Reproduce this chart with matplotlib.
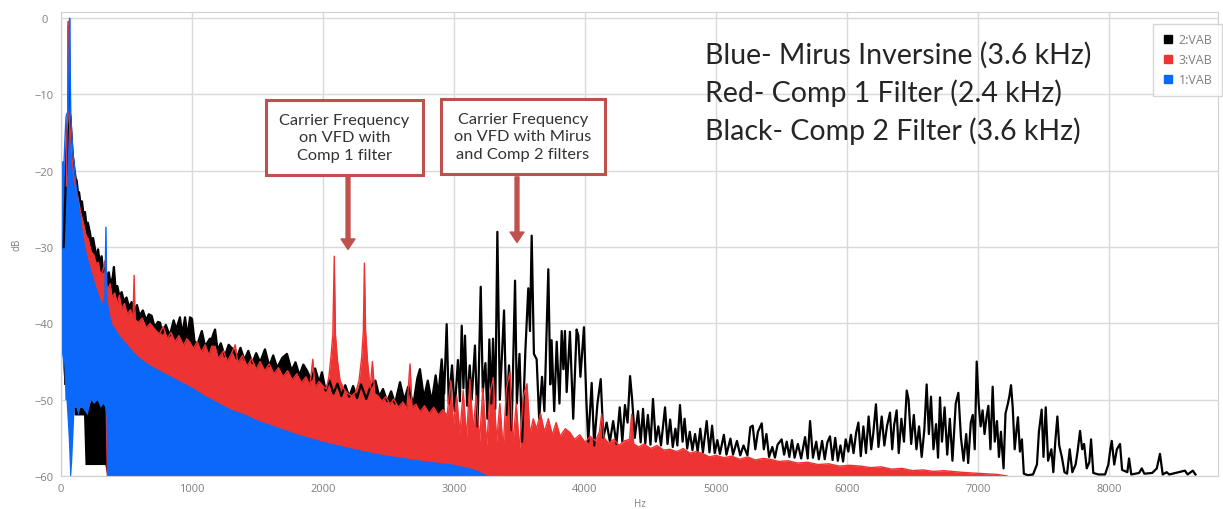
import matplotlib
matplotlib.use("Agg")
import matplotlib.pyplot as plt
from matplotlib.lines import Line2D
import numpy as np

# spectrum readings (Hz, dB) taken off the original screen capture
black_hz = [20, 35, 48, 55, 60, 64, 72, 80, 90, 100, 112, 120, 130, 138, 150, 160, 172, 183, 195, 205,
            221, 232, 245, 260, 270, 283, 295, 310, 322, 335, 350, 365, 380, 395, 404, 415, 430, 445, 463, 480,
            500, 520, 539, 560, 580, 600, 625, 650, 670, 692, 715, 740, 756, 775, 800, 830, 860, 880, 908, 925,
            947, 965, 985, 1000, 1020, 1046, 1075, 1100, 1137, 1150, 1165, 1176, 1195, 1220, 1250, 1280, 1313, 1340, 1370, 1400,
            1430, 1460, 1490, 1520, 1557, 1590, 1620, 1650, 1690, 1725, 1760, 1790, 1820, 1850, 1878, 1910, 1940, 1970, 1992, 2020,
            2050, 2080, 2110, 2140, 2170, 2200, 2230, 2260, 2290, 2330, 2360, 2400, 2430, 2458, 2490, 2520, 2550, 2588, 2620, 2650,
            2690, 2720, 2740, 2770, 2800, 2830, 2860, 2880, 2906, 2925, 2944, 2960, 2985, 3005, 3030, 3045, 3059, 3072, 3084, 3100,
            3120, 3135, 3160, 3180, 3204, 3220, 3240, 3255, 3270, 3285, 3298, 3315, 3331, 3350, 3365, 3382, 3400, 3420, 3440, 3466,
            3480, 3500, 3520, 3545, 3567, 3580, 3593, 3610, 3631, 3650, 3672, 3690, 3720, 3735, 3745, 3765, 3784, 3805, 3822, 3835,
            3847, 3860, 3885, 3910, 3936, 3949, 3965, 3992, 4010, 4025, 4051, 4070, 4095, 4120, 4140, 4165, 4190, 4215, 4240, 4265,
            4285, 4305, 4325, 4344, 4360, 4380, 4405, 4425, 4443, 4460, 4480, 4500, 4519, 4540, 4560, 4580, 4611, 4630, 4650, 4670,
            4690, 4705, 4725, 4745, 4760, 4780, 4800, 4820, 4840, 4860, 4880, 4900, 4929, 4950, 4970, 4990, 5010, 5030, 5060, 5080,
            5110, 5130, 5160, 5185, 5210, 5240, 5262, 5280, 5300, 5320, 5349, 5365, 5385, 5405, 5430, 5450, 5470, 5501, 5520, 5540,
            5560, 5580, 5600, 5625, 5650, 5680, 5700, 5718, 5740, 5765, 5785, 5810, 5830, 5850, 5870, 5890, 5910, 5930, 5950, 5970,
            5990, 6010, 6030, 6050, 6070, 6087, 6105, 6125, 6145, 6165, 6185, 6200, 6221, 6240, 6265, 6285, 6305, 6328, 6345, 6360,
            6379, 6395, 6415, 6435, 6456, 6470, 6490, 6510, 6530, 6550, 6570, 6590, 6608, 6625, 6641, 6660, 6680, 6695, 6710, 6725,
            6745, 6765, 6785, 6805, 6830, 6850, 6870, 6890, 6910, 6925, 6945, 6960, 6975, 6990, 7005, 7020, 7035, 7050, 7065, 7079,
            7095, 7112, 7128, 7145, 7160, 7175, 7195, 7210, 7227, 7240, 7252, 7265, 7280, 7295, 7305, 7320, 7335, 7350, 7380, 7420,
            7450, 7465, 7486, 7500, 7517, 7535, 7560, 7575, 7590, 7606, 7620, 7640, 7660, 7680, 7700, 7720, 7745, 7760, 7779, 7795,
            7810, 7830, 7850, 7863, 7880, 7920, 7970, 7995, 8010, 8021, 8040, 8060, 8084, 8100, 8140, 8153, 8170, 8230, 8250, 8270,
            8330, 8365, 8389, 8410, 8440, 8460, 8580, 8600, 8640, 8660]
black_db = [-30, -22, -16, -13, -1, -12, -13, -15.5, -18, -19.5, -21, -21.3, -23, -22.8, -24.5, -24, -25.8, -25.4, -27.2, -26.8,
            -28.1, -29.3, -28.8, -30.3, -31.6, -30.3, -32, -31.2, -33.2, -32.4, -34, -33.3, -35, -33.9, -32.6, -35.2, -35.1, -36.4, -35.9, -37.1,
            -36.6, -37.9, -37.2, -38.4, -37.6, -39, -38.3, -39.6, -38.8, -39, -40.5, -39.8, -39.9, -41.3, -40.2, -41.6, -39.6, -40.8, -39.2, -41.5,
            -39.2, -41.8, -39.2, -39.4, -42.5, -42.5, -41, -43, -42, -42.1, -41.3, -40.8, -43.5, -42.6, -44.3, -42.8, -43.4, -44.6, -43.2, -44.8,
            -43.6, -45.2, -43.9, -45.1, -43.4, -45.6, -44.2, -45.8, -44.5, -44, -46.2, -45.1, -46.8, -45.4, -46.2, -47.4, -45.9, -47.7, -46.4, -48.8,
            -47.5, -49.2, -47.9, -49.5, -48.1, -49.6, -48.2, -49.8, -48, -49.9, -48.4, -47.5, -49.6, -48.6, -50.2, -48.9, -50.5, -47.7, -50.1, -48.3,
            -50.6, -47.2, -46, -49.8, -47.5, -50.3, -46.8, -49.5, -44.7, -49.2, -40.1, -50.5, -45.5, -51.5, -44.8, -50.2, -40.3, -48.5, -41.6, -50.8,
            -45.5, -50, -42.9, -53.5, -35.2, -49, -45.2, -52.5, -42.1, -50.5, -42, -51.2, -28, -50, -44.5, -38.3, -52, -45.5, -54, -34.4,
            -50.5, -44, -55.5, -43.5, -35.4, -41, -28.5, -44, -44.7, -52.5, -47, -51.5, -32.9, -48, -42.2, -51.5, -42.4, -50.5, -41, -46,
            -41, -49, -41.1, -52.5, -40.8, -41.6, -47, -40.5, -50, -55.5, -47.8, -56, -50.5, -47.3, -55, -53, -55.5, -52.8, -55.8, -51,
            -55.5, -50.7, -53, -46.9, -50, -55, -51.5, -55.6, -51.2, -55.8, -52, -55.9, -49.9, -55.5, -53.5, -56, -51, -55.8, -52.6, -56.2,
            -53.8, -56, -50.7, -55.5, -52.5, -56.4, -54.2, -56.6, -54.5, -56.8, -53.8, -56.9, -52.8, -56.9, -53.4, -57, -55.3, -57.1, -54.6, -57.2,
            -55.1, -57.2, -55.4, -57.3, -56, -57.3, -53.6, -53.4, -56.5, -54.2, -53.1, -56.5, -54.5, -57.5, -56.2, -57.6, -55.9, -55.2, -57.2, -55.5,
            -57.5, -55.3, -57.6, -55.8, -57.7, -54.9, -57.7, -52.8, -57.6, -55.5, -57.8, -55.4, -57.8, -55.6, -54.8, -57.9, -55, -58, -56, -58.1,
            -55.2, -56.8, -54.6, -57, -54.3, -53, -57.4, -53.5, -57, -52.2, -56.5, -54.5, -50.6, -56.2, -52.2, -56, -53.5, -51.7, -56.5, -53.3,
            -51.4, -57, -52.5, -55.5, -48.8, -50, -55.8, -52, -56.5, -53.5, -57.5, -54, -48, -54.5, -49.6, -56.5, -53.2, -57.6, -49.7, -55.5,
            -51, -57.2, -52.5, -58, -50.5, -49.1, -55, -58, -54.5, -58.3, -53, -52, -56.5, -45, -50.5, -53.5, -51.4, -54.5, -52.3, -50.8,
            -56.5, -48.3, -55.5, -52.8, -57.5, -54.2, -59, -51.8, -50.6, -49.5, -48.1, -51, -56.5, -53.8, -52.3, -56.8, -55.2, -59.7, -59.9, -59.8,
            -58.5, -54.2, -51.3, -57.5, -51, -58, -56.5, -59.5, -55.5, -52.2, -56, -57.5, -59.5, -59.7, -56.5, -59.5, -58.5, -56.8, -54.1, -56.5,
            -55.8, -59, -58.2, -55.2, -59.6, -59.8, -59.8, -58.5, -56.5, -55.4, -58.5, -56.5, -55.8, -59.2, -59.5, -57.7, -59.8, -59.6, -59, -59.7,
            -59.6, -59, -57.1, -59.8, -59.5, -59.8, -59.3, -59.8, -59.3, -59.8]
# lowest level the dense black trace reaches (only differs from -60 below 345 Hz)
black_low = [-48] * 9 + [-52] * 8 + [-58.5] * 13 + [-60] * (len(black_hz) - 30)

red_hz = [40, 46, 50, 53, 56, 59, 64, 72, 85, 100, 115, 132, 150, 170, 190, 209, 230, 250, 270, 285,
          300, 318, 335, 345, 359, 375, 390, 410, 430, 445, 463, 485, 505, 530, 550, 558, 566, 590, 620, 650,
          680, 718, 750, 780, 810, 840, 870, 900, 935, 960, 985, 1010, 1040, 1070, 1100, 1130, 1150, 1176, 1200, 1240,
          1270, 1300, 1330, 1350, 1385, 1420, 1455, 1490, 1520, 1555, 1590, 1625, 1660, 1695, 1730, 1765, 1800, 1835, 1870, 1900,
          1922, 1940, 1970, 2000, 2025, 2045, 2060, 2075, 2086, 2095, 2110, 2130, 2160, 2190, 2220, 2250, 2275, 2295, 2308, 2316,
          2325, 2340, 2360, 2377, 2395, 2420, 2450, 2480, 2510, 2540, 2575, 2610, 2640, 2664, 2680, 2710, 2740, 2775, 2810, 2845,
          2880, 2915, 2947, 2975, 2995, 3020, 3045, 3070, 3095, 3122, 3145, 3170, 3195, 3220, 3250, 3275, 3300, 3325, 3350, 3375,
          3400, 3427, 3450, 3475, 3500, 3530, 3557, 3580, 3605, 3630, 3660, 3690, 3720, 3750, 3780, 3810, 3850, 3885, 3920, 3960,
          4000, 4040, 4080, 4110, 4127, 4145, 4180, 4220, 4260, 4300, 4340, 4356, 4372, 4410, 4450, 4500, 4550, 4600, 4649, 4700,
          4750, 4800, 4850, 4903, 4950, 5000, 5060, 5120, 5180, 5240, 5300, 5360, 5412, 5480, 5550, 5620, 5700, 5780, 5860, 5940,
          6020, 6099, 6180, 6260, 6340, 6420, 6500, 6580, 6660, 6740, 6863, 6950, 7050, 7150, 7221]
red_db = [-22, -15, -13.5, -10, -0.4, -11, -13.5, -15, -18.5, -21, -22.5, -23.7, -25.5, -26.8, -28.4, -29, -30.6, -31, -32.2, -32,
          -33.5, -33.2, -31.8, -34.8, -35.5, -34.8, -36.6, -36, -37.5, -36.3, -38.1, -37.4, -38.8, -38.2, -39.3, -33.7, -39.5, -39.9, -39.3, -40.6,
          -40, -40.8, -41.4, -40.4, -42, -41.2, -42.4, -41.6, -42.9, -42, -42.5, -43.3, -42.4, -43.8, -42.8, -44.2, -43, -43, -44.6, -43.6,
          -45, -44, -42.8, -45.2, -44.2, -45.6, -44.6, -46, -45, -46.2, -45.3, -46.6, -45.8, -47, -46.2, -47.4, -46.6, -47.8, -47, -48.2,
          -44.7, -48.4, -47.6, -48.2, -48.6, -47, -44.5, -41.5, -31.2, -41.5, -44.8, -47.5, -48.6, -49.2, -49.5, -49, -47.5, -44.5, -41, -32.1,
          -41, -45, -48.5, -45, -49.2, -49.5, -50.2, -49.6, -50.6, -49.9, -51, -50.3, -51.2, -45.3, -51, -50.6, -51.6, -50.8, -51.8, -51,
          -52, -51.3, -52.1, -47.5, -53.5, -49.5, -54.5, -48.8, -55, -47.3, -54, -49.5, -55.5, -48.5, -56, -49.2, -47.1, -55.5, -50.5, -56.5,
          -48.5, -46.4, -55.8, -50.5, -56.5, -49.5, -47.9, -54.5, -52.5, -53.8, -51.8, -54.2, -52.5, -54.6, -53, -54.8, -53.8, -54.3, -55.2, -54.6,
          -55.6, -54.8, -55.4, -54.2, -51.9, -55, -55.7, -55.2, -56, -55.4, -55.2, -51.9, -55.8, -56.2, -55.8, -56.4, -56, -56.6, -56.5, -56.8,
          -56.4, -57, -56.8, -57.1, -57.5, -57.3, -57.6, -57.4, -57.8, -57.5, -57.9, -57.7, -57.8, -58.1, -58, -58.3, -58.2, -58.5, -58.4, -58.7,
          -58.6, -58.7, -58.9, -58.8, -59.1, -59, -59.3, -59.2, -59.4, -59.3, -59.5, -59.6, -59.7, -59.8, -60]
red_low = [-50] * 9 + [-51] * 7 + [-50] * 7 + [-60] * (len(red_hz) - 23)

blue_hz = [0, 8, 15, 22, 30, 38, 45, 55, 62, 66, 70, 74, 82, 90, 100, 115, 130, 145, 160, 180,
           200, 225, 250, 275, 300, 320, 335, 343, 350, 370, 390, 412, 450, 500, 550, 603, 700, 800, 900, 1000,
           1100, 1200, 1300, 1400, 1500, 1600, 1700, 1800, 1900, 2000, 2150, 2300, 2450, 2600, 2800, 3000, 3150, 3250]
blue_db = [-19, -19.5, -18.8, -19.3, -16, -13, -12.5, -12.3, -5, 0, -6, -12.5, -15, -17.5, -19, -22, -24, -26, -28, -30,
           -31.5, -33, -34.5, -35.8, -37, -37.6, -36.5, -27.4, -37, -39, -40.3, -40.8, -41.8, -42.8, -43.8, -44.7, -45.8, -46.7, -47.6, -48.5,
           -49.6, -50.5, -51.4, -52, -52.8, -53.4, -54, -54.6, -55.1, -55.6, -56.2, -56.8, -57.3, -57.7, -58.2, -58.6, -59.2, -60]
blue_low = [-45, -44, -47, -45, -50, -50, -52, -55, -58, -60, -60, -60, -58, -55, -51, -51, -52, -51, -51, -51.5,
            -52, -50, -50.5, -50, -51, -50.5, -51, -52, -60, -60, -60, -60, -60, -60, -60, -60, -60, -60, -60, -60,
            -60, -60, -60, -60, -60, -60, -60, -60, -60, -60, -60, -60, -60, -60, -60, -60, -60, -60]

series_labels = ["2:VAB", "3:VAB", "1:VAB"]
notes = ["Blue- Mirus Inversine (3.6 kHz)", "Red- Comp 1 Filter (2.4 kHz)", "Black- Comp 2 Filter (3.6 kHz)"]

BLACK = "#000000"
RED = "#EE3333"
BLUE = "#0A68FA"
BOXRED = "#C0504D"
GRAY = "#7f7f7f"

plt.rcParams['font.family'] = ['Open Sans', 'DejaVu Sans']

W, H = 1223, 510
fig = plt.figure(figsize=(W / 100, H / 100), dpi=100)
ax = fig.add_axes([61 / W, 33 / H, (1218 - 61) / W, (477 - 12.7) / H])

bh = np.array(black_hz)
ax.fill_between(bh, black_low, black_db, where=bh <= 2935, color=BLACK, lw=0)
ax.plot(bh, black_db, color=BLACK, lw=1.6)
ax.fill_between(red_hz, red_low, red_db, color=RED, lw=0)
ax.plot(red_hz, red_db, color=RED, lw=1.0)
ax.fill_between(blue_hz, blue_low, blue_db, color=BLUE, lw=0)
ax.plot(blue_hz, blue_db, color=BLUE, lw=1.0)

ax.set_xlim(0, (1218 - 61) / 0.131)
ax.set_ylim(-60, 0.85)
ax.set_xticks(range(0, 9000, 1000))
ax.set_yticks(range(-60, 1, 10))
ax.grid(True, color="#d9d9d9", lw=1)
ax.set_axisbelow(True)
for s in ax.spines.values():
    s.set_color("#d0d0d0")
ax.tick_params(length=0, labelsize=8, labelcolor=GRAY)
ax.tick_params(axis='y', pad=12)
ax.tick_params(axis='x', pad=5)
for lab in ax.get_yticklabels():
    lab.set_ha('center')
ax.set_xlabel("Hz", fontsize=7, color=GRAY, labelpad=3)
ax.set_ylabel("dB", fontsize=7, color=GRAY, labelpad=9)

# legend
handles = [Line2D([], [], ls='', marker='s', markersize=5.5, color=c) for c in (BLACK, RED, BLUE)]
ax.legend(handles, series_labels, loc='upper right', bbox_to_anchor=(1222 / W, 1 - 25 / H),
          bbox_transform=fig.transFigure, fontsize=9, labelcolor=GRAY, frameon=True,
          fancybox=False, edgecolor="#cccccc", handlelength=0.8, handletextpad=0.5,
          labelspacing=0.55, borderpad=0.75, borderaxespad=0)

# notes top right
for i, t in enumerate(notes):
    fig.text(705 / W, 1 - (55 + 38 * i) / H, t, fontsize=20.5, color="#262626",
             family=['Lato', 'DejaVu Sans'], va='center', ha='left')

# callout boxes
box_kw = dict(boxstyle='square,pad=0.8', fc='white', ec=BOXRED, lw=2.2)
txt_kw = dict(ha='center', va='center', fontsize=11.8, color="#333333",
              family=['Lato', 'DejaVu Sans'], linespacing=1.3, bbox=box_kw)
ax.text(2164, -15.6, "Carrier Frequency\non VFD with\nComp 1 filter", **txt_kw)
ax.text(3527, -15.5, "Carrier Frequency\non VFD with Mirus\nand Comp 2 filters", **txt_kw)
arrow_kw = dict(arrowstyle='simple,head_width=1.0,head_length=0.75,tail_width=0.28',
                color=BOXRED, shrinkA=0, shrinkB=0)
ax.annotate("", xy=(2191, -30.3), xytext=(2191, -20.8), arrowprops=arrow_kw)
ax.annotate("", xy=(3481, -29.4), xytext=(3481, -20.8), arrowprops=arrow_kw)

fig.savefig("out.png", dpi=100)
